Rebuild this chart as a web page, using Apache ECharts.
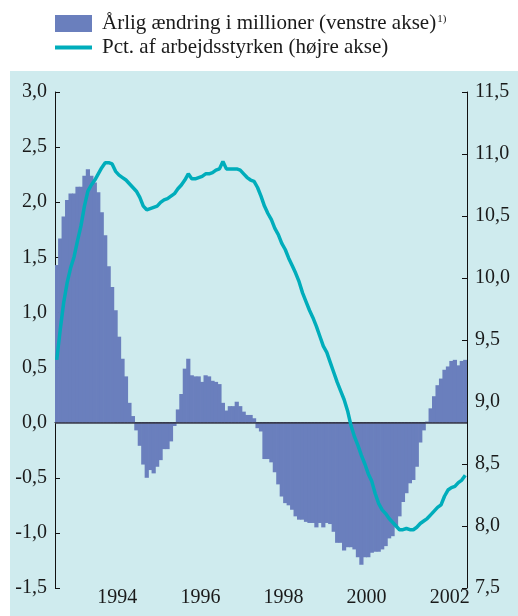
<!DOCTYPE html>
<html>
<head>
<meta charset="utf-8">
<script src="https://cdn.jsdelivr.net/npm/echarts@6/dist/echarts.min.js"></script>
<style>
  html, body { margin: 0; padding: 0; background: #fff; }
  #chart { width: 518px; height: 616px; }
</style>
</head>
<body>
<div id="chart"></div>
<script>
// monthly, Jan 1993 - Nov 2002
const firstYear = 1993;
const monthCount = 119;
const yearLabels = ['1994', '1996', '1998', '2000', '2002'];

const barName = 'Årlig ændring i millioner (venstre akse)';
const lineName = 'Pct. af arbejdsstyrken (højre akse)';

const changeMillions = [
  1.43, 1.67, 1.87, 2.02, 2.08, 2.08, 2.14, 2.14, 2.24, 2.30, 2.24, 2.18,
  2.09, 1.91, 1.70, 1.42, 1.23, 1.02, 0.78, 0.58, 0.42, 0.18, 0.06, -0.07,
  -0.21, -0.38, -0.50, -0.43, -0.46, -0.40, -0.34, -0.24, -0.24, -0.17, -0.03, 0.12,
  0.26, 0.49, 0.58, 0.43, 0.42, 0.42, 0.37, 0.43, 0.42, 0.38, 0.37, 0.35,
  0.18, 0.11, 0.15, 0.15, 0.19, 0.15, 0.10, 0.07, 0.07, 0.04, -0.05, -0.08,
  -0.33, -0.33, -0.36, -0.45, -0.56, -0.67, -0.73, -0.75, -0.79, -0.85, -0.88, -0.88,
  -0.90, -0.91, -0.91, -0.95, -0.91, -0.95, -0.91, -0.92, -0.99, -1.09, -1.09, -1.16,
  -1.13, -1.13, -1.15, -1.22, -1.29, -1.22, -1.22, -1.18, -1.17, -1.17, -1.15, -1.12,
  -1.05, -1.03, -0.94, -0.85, -0.72, -0.64, -0.55, -0.52, -0.40, -0.18, -0.07, 0.01,
  0.13, 0.24, 0.34, 0.40, 0.48, 0.51, 0.56, 0.57, 0.52, 0.56, 0.57
];

const pctLabourForce = [
  9.34, 9.58, 9.80, 9.96, 10.08, 10.17, 10.30, 10.42, 10.58, 10.70, 10.75, 10.79,
  10.84, 10.89, 10.93, 10.93, 10.92, 10.86, 10.83, 10.81, 10.79, 10.76, 10.73, 10.70,
  10.65, 10.58, 10.55, 10.56, 10.57, 10.58, 10.61, 10.63, 10.64, 10.66, 10.68, 10.72,
  10.75, 10.79, 10.84, 10.80, 10.80, 10.81, 10.82, 10.84, 10.84, 10.85, 10.87, 10.88,
  10.94, 10.88, 10.88, 10.88, 10.88, 10.87, 10.84, 10.81, 10.79, 10.78, 10.73, 10.66,
  10.58, 10.52, 10.47, 10.40, 10.35, 10.28, 10.23, 10.16, 10.10, 10.04, 9.97, 9.88,
  9.81, 9.74, 9.68, 9.61, 9.53, 9.45, 9.40, 9.32, 9.24, 9.16, 9.09, 9.02,
  8.93, 8.81, 8.72, 8.65, 8.57, 8.50, 8.42, 8.36, 8.26, 8.18, 8.13, 8.10,
  8.06, 8.03, 8.00, 7.97, 7.97, 7.98, 7.97, 7.97, 7.99, 8.02, 8.04, 8.06,
  8.09, 8.12, 8.15, 8.17, 8.24, 8.29, 8.31, 8.32, 8.35, 8.37, 8.41
];

const months = [];
for (let i = 0; i < monthCount; i++) {
  const y = firstYear + Math.floor(i / 12);
  const m = (i % 12) + 1;
  months.push(y + '-' + (m < 10 ? '0' + m : m));
}

const font = 'Liberation Serif';
const comma = v => v.toFixed(1).replace('.', ',');
const barColor = '#6a7fbd';
const lineColor = '#00adbb';

const chart = echarts.init(document.getElementById('chart'));
chart.setOption({
  backgroundColor: '#fff',
  animation: false,
  graphic: [{
    type: 'rect', z: -10, silent: true,
    shape: { x: 10, y: 71, width: 508, height: 545 },
    style: { fill: '#cfebee' }
  }],
  legend: {
    orient: 'vertical',
    left: 55,
    top: 13,
    padding: 0,
    itemWidth: 37,
    itemHeight: 17,
    itemGap: 3,
    data: [
      { name: barName, icon: 'rect' },
      // thin stripe across the middle of a 37x17 box
      { name: lineName, icon: 'path://M0,0L37,0L37,0.01ZM0,6.5L37,6.5L37,10.5L0,10.5ZM0,17L37,17L37,17.01Z' }
    ],
    formatter: name => name === barName ? '{t|' + name + '}{s|1)}' : '{t|' + name + '}',
    textStyle: {
      fontFamily: font,
      fontSize: 21,
      color: '#1a1a1a',
      rich: {
        t: { fontFamily: font, fontSize: 21, lineHeight: 21, color: '#1a1a1a', padding: [0, 0, 0, 5] },
        s: { fontFamily: font, fontSize: 11, color: '#1a1a1a', padding: [0, 0, 8, 1] }
      }
    }
  },
  grid: { left: 55, right: 51, top: 92, bottom: 28 },
  xAxis: {
    type: 'category',
    data: months,
    boundaryGap: true,
    axisLine: { lineStyle: { color: '#111', width: 1 } },
    axisTick: {
      inside: true,
      length: 6,
      interval: i => i % 12 === 0 && i > 0,
      lineStyle: { color: '#111' }
    },
    axisLabel: {
      interval: (i, v) => v.slice(5) === '07' && yearLabels.includes(v.slice(0, 4)),
      formatter: v => v.slice(0, 4),
      fontFamily: font,
      fontSize: 20,
      color: '#1a1a1a',
      margin: 0,
      padding: [0, 3.5, 0, 0]
    }
  },
  yAxis: [{
    type: 'value',
    min: -1.5, max: 3, interval: 0.5,
    position: 'left',
    splitLine: { show: false },
    axisLine: { show: true, lineStyle: { color: '#111' } },
    axisTick: { show: true, inside: true, length: 5, lineStyle: { color: '#111' } },
    axisLabel: { formatter: comma, fontFamily: font, fontSize: 20, color: '#1a1a1a', margin: 8 }
  }, {
    type: 'value',
    min: 7.5, max: 11.5, interval: 0.5,
    position: 'right',
    splitLine: { show: false },
    axisLine: { show: true, lineStyle: { color: '#111' } },
    axisTick: { show: true, inside: true, length: 5, lineStyle: { color: '#111' } },
    axisLabel: { formatter: comma, fontFamily: font, fontSize: 20, color: '#1a1a1a', margin: 8 }
  }],
  series: [{
    name: barName,
    type: 'bar',
    yAxisIndex: 0,
    data: changeMillions,
    barWidth: 4.2,
    itemStyle: { color: barColor },
    markLine: {
      silent: true,
      symbol: 'none',
      label: { show: false },
      lineStyle: { color: '#3b3b4d', width: 1.6, type: 'solid' },
      data: [{ yAxis: 0 }]
    }
  }, {
    name: lineName,
    type: 'line',
    yAxisIndex: 1,
    z: 5,
    data: pctLabourForce,
    symbol: 'none',
    lineStyle: { color: lineColor, width: 3.5 },
    itemStyle: { color: lineColor }
  }]
});
</script>
</body>
</html>
